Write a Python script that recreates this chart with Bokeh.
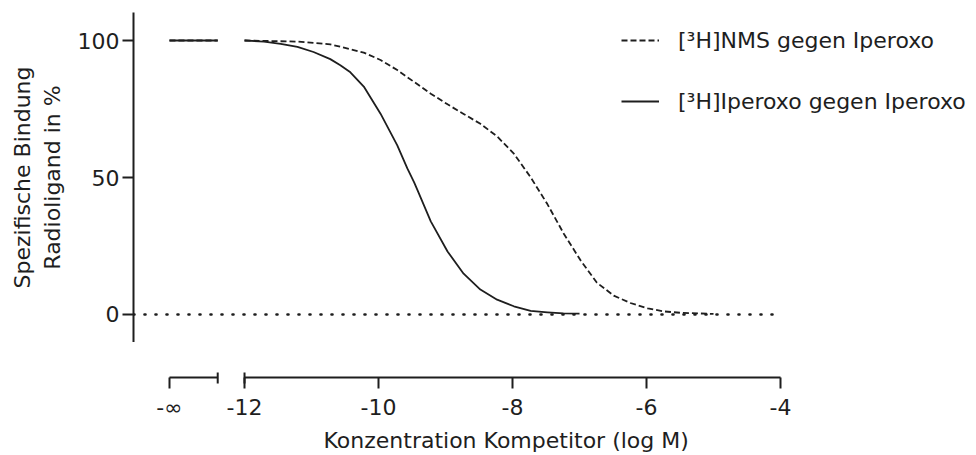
from bokeh.plotting import figure
from bokeh.layouts import column
from bokeh.models import Range1d, FixedTicker, Legend, LegendItem, Title
from bokeh.embed import file_html
from bokeh.resources import INLINE

# ---------------- data ----------------
nms_log = [-12.0, -11.21, -10.72, -10.22, -9.97, -9.72, -9.47, -9.22, -8.97, -8.73,
           -8.48, -8.23, -7.98, -7.73, -7.48, -7.23, -6.98, -6.74, -6.49, -6.24,
           -5.98, -5.73, -5.48, -5.0]
nms_pct = [100.0, 99.6, 98.6, 95.6, 92.9, 89.2, 84.9, 80.6, 76.7, 73.2,
           69.6, 65.0, 58.7, 50.1, 40.3, 29.3, 19.6, 11.6, 6.9, 4.2,
           2.2, 1.1, 0.6, 0.2]

ipx_log = [-12.0, -11.71, -11.46, -11.21, -10.97, -10.72, -10.57, -10.42, -10.22, -9.97,
           -9.72, -9.57, -9.47, -9.42, -9.22, -8.97, -8.73, -8.48, -8.23, -7.98,
           -7.73, -7.48, -7.24, -7.0]
ipx_pct = [100.0, 99.6, 98.8, 97.7, 95.8, 93.2, 91.0, 88.4, 83.2, 73.3,
           61.7, 53.3, 48.3, 45.5, 34.0, 23.0, 14.9, 9.1, 5.4, 3.0,
           1.3, 0.8, 0.4, 0.3]

# value of both series without competitor (log = -inf)
nms_neg_inf = 100.0
ipx_neg_inf = 100.0

x_ticks = [-12, -10, -8, -6, -4]
y_ticks = [0, 50, 100]

labels = ["[³H]NMS gegen Iperoxo", "[³H]Iperoxo gegen Iperoxo"]
x_title = "Konzentration Kompetitor (log M)"
y_title = "Spezifische Bindung\nRadioligand in %"

# ---------------- layout constants (broken x axis) ----------------
X_MIN, X_MAX = -13.657, -1.075
Y_MIN, Y_MAX = -10.22, 110.22       # plot area
AX_MIN = -27.0                       # lower strip that carries the broken x axis
NEG_INF_POS = -13.12                 # where "-inf" sits on the broken axis
BREAK_LEFT = -12.4                   # right end of the -inf segment
X_AXIS_Y = -23.0                     # height of the x-axis line
BRK_TOP, BRK_BOT = -21.2, -25.2      # break marks

INK = "#1e1e1e"
FONT = "DejaVu Sans"
FS = "22px"

xr = Range1d(X_MIN, X_MAX)

# ================= main plot =================
p = figure(width=976, height=342, output_backend="svg", toolbar_location=None,
           title=None, x_range=xr, y_range=Range1d(Y_MIN, Y_MAX),
           min_border_left=133, min_border_right=0, min_border_top=12,
           min_border_bottom=0)
p.outline_line_color = None
p.grid.visible = False
p.xaxis.visible = False

ya = p.yaxis[0]
ya.ticker = FixedTicker(ticks=y_ticks)
ya.axis_line_color = INK
ya.axis_line_width = 2
ya.major_tick_in = 0
ya.major_tick_out = 11
ya.major_tick_line_color = INK
ya.major_tick_line_width = 2
ya.minor_tick_line_color = None
ya.major_label_standoff = 3
ya.major_label_text_font = FONT
ya.major_label_text_font_size = FS
ya.major_label_text_color = INK
ya.axis_label = y_title
ya.axis_label_standoff = 10
ya.axis_label_text_font = FONT
ya.axis_label_text_font_size = FS
ya.axis_label_text_font_style = "normal"
ya.axis_label_text_color = INK
ya.axis_label_text_line_height = 1.17

# dotted zero line
p.line(x=[X_MIN, x_ticks[-1]], y=[0, 0], line_color=INK, line_width=2.6,
       line_dash="1 10", line_cap="round")

# -inf values
p.line(x=[NEG_INF_POS, BREAK_LEFT], y=[ipx_neg_inf, ipx_neg_inf],
       line_color=INK, line_width=1.8)
p.line(x=[NEG_INF_POS, BREAK_LEFT], y=[nms_neg_inf, nms_neg_inf],
       line_color=INK, line_width=1.8, line_dash="6 3")

# curves
r_ipx = p.line(x=ipx_log, y=ipx_pct, line_color=INK, line_width=1.8,
               line_join="round")
r_nms = p.line(x=nms_log, y=nms_pct, line_color=INK, line_width=1.8,
               line_dash="6 3", line_join="round")

legend = Legend(items=[LegendItem(label=labels[0], renderers=[r_nms]),
                       LegendItem(label=labels[1], renderers=[r_ipx])],
                location=(488, 228), orientation="vertical",
                glyph_width=38, glyph_height=26, label_height=26,
                spacing=35, label_standoff=19, padding=0, margin=0,
                border_line_color=None, background_fill_alpha=0,
                label_text_font=FONT, label_text_font_size=FS,
                label_text_color=INK)
p.add_layout(legend)

# ================= broken x axis strip =================
q = figure(width=976, height=113, output_backend="svg", toolbar_location=None,
           title=None, x_range=xr, y_range=Range1d(AX_MIN, Y_MIN),
           min_border_left=133, min_border_right=0, min_border_top=0,
           min_border_bottom=67)
q.outline_line_color = None
q.grid.visible = False
q.yaxis.visible = False

xa = q.xaxis[0]
xa.ticker = FixedTicker(ticks=[NEG_INF_POS] + x_ticks)
overrides = {t: str(t) for t in x_ticks}
overrides[NEG_INF_POS] = "-∞"
xa.major_label_overrides = overrides
xa.axis_line_color = None
xa.major_tick_in = 11
xa.major_tick_out = 0
xa.major_tick_line_color = INK
xa.major_tick_line_width = 2
xa.minor_tick_line_color = None
xa.major_label_standoff = 6
xa.major_label_text_font = FONT
xa.major_label_text_font_size = FS
xa.major_label_text_color = INK

# axis line in two pieces (-inf bracket, then -12 .. -4)
q.segment(x0=[NEG_INF_POS, x_ticks[0]], y0=[X_AXIS_Y, X_AXIS_Y],
          x1=[BREAK_LEFT, x_ticks[-1]], y1=[X_AXIS_Y, X_AXIS_Y],
          line_color=INK, line_width=2)
# break marks
q.segment(x0=[BREAK_LEFT, x_ticks[0]], y0=[BRK_TOP, BRK_TOP],
          x1=[BREAK_LEFT, x_ticks[0]], y1=[BRK_BOT, BRK_BOT],
          line_color=INK, line_width=2)

q.add_layout(Title(text=x_title, align="left", offset=190, vertical_align="bottom",
                   standoff=6, text_font=FONT, text_font_size=FS,
                   text_font_style="normal", text_color=INK), "below")

layout = column(p, q, spacing=0)
open("out.html", "w").write(file_html(layout, INLINE))
